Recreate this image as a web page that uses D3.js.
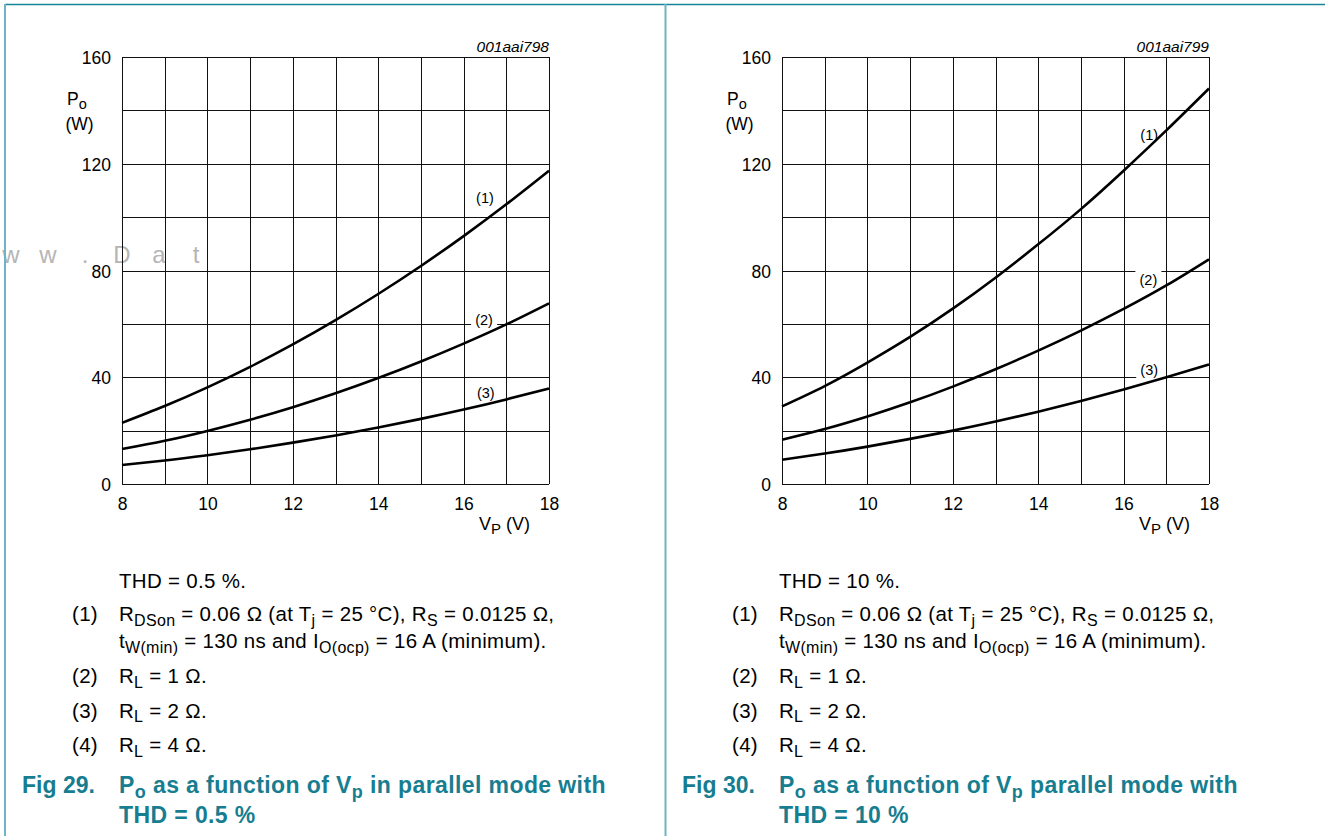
<!DOCTYPE html>
<html>
<head>
<meta charset="utf-8">
<script src="https://cdn.jsdelivr.net/npm/d3@7/dist/d3.min.js"></script>
<style>
  body { margin: 0; background: #fff; }
  svg { display: block; font-family: "Liberation Sans", Arial, Helvetica, sans-serif; }
</style>
</head>
<body>
<svg id="chart"></svg>
<script>
// supply voltage V_P (V), same for every curve
const vpValues = [8, 9, 10, 11, 12, 13, 14, 15, 16, 17, 18];
const xTickValues = [8, 10, 12, 14, 16, 18];
const yTickValues = [0, 40, 80, 120, 160];
const curveNames = ['(1)', '(2)', '(3)'];

// Fig 29: Po (W), THD = 0.5 %
const fig29Curve1 = [22.9, 29.2, 36.2, 43.9, 52.3, 61.4, 71.2, 81.7, 92.9, 104.8, 117.4];
const fig29Curve2 = [13.1, 16.2, 19.9, 24.1, 28.8, 34.0, 39.7, 45.9, 52.6, 59.8, 67.7];
const fig29Curve3 = [7.1, 8.8, 10.8, 13.0, 15.5, 18.2, 21.2, 24.4, 27.9, 31.7, 35.8];
const fig29LabelAt = [[16.5, 105.3], [16.48, 59.6], [16.52, 32.1]];

// Fig 30: Po (W), THD = 10 %
const fig30Curve1 = [29.1, 36.7, 45.5, 55.1, 65.7, 77.3, 89.8, 103.0, 117.4, 132.5, 148.2];
const fig30Curve2 = [16.6, 20.6, 25.3, 30.6, 36.5, 43.0, 50.0, 57.5, 65.6, 74.4, 84.2];
const fig30Curve3 = [9.1, 11.4, 14.0, 16.9, 20.0, 23.4, 27.1, 31.1, 35.4, 40.0, 44.8];
const fig30LabelAt = [[16.6, 128.9], [16.58, 74.6], [16.6, 40.8]];

const legendLine1 = [['R'], ['DSon', 1], [' = 0.06 \u03A9 (at T'], ['j', 1], [' = 25 \u00B0C), R'], ['S', 1], [' = 0.0125 \u03A9,']];
const legendLine2 = [['t'], ['W(min)', 1], [' = 130 ns and I'], ['O(ocp)', 1], [' = 16 A (minimum).']];
const legendRL = ['1', '2', '4'];

const panels = [
    {
        offset: 0, code: '001aai798', thd: 'THD = 0.5 %.', fig: 'Fig 29.',
        curves: [fig29Curve1, fig29Curve2, fig29Curve3], labelAt: fig29LabelAt,
        caption: [['P'], ['o', 1], [' as a function of V'], ['p', 1], [' in parallel mode with']],
        caption2: 'THD = 0.5 %'
    },
    {
        offset: 660, code: '001aai799', thd: 'THD = 10 %.', fig: 'Fig 30.',
        curves: [fig30Curve1, fig30Curve2, fig30Curve3], labelAt: fig30LabelAt,
        caption: [['P'], ['o', 1], [' as a function of V'], ['p', 1], [' parallel mode with']],
        caption2: 'THD = 10 %'
    }
];

const width = 1325;
const height = 836;
const teal = '#177d90';

const svg = d3.select('#chart')
    .attr('width', width)
    .attr('height', height);

svg.append('rect').attr('width', width).attr('height', height).attr('fill', '#fff');

// text with subscripts
function richText(sel, parts, size, subSize) {
    let lowered = false;
    parts.forEach(([str, isSub]) => {
        const t = sel.append('tspan').text(str);
        if (isSub && !lowered) {
            t.attr('dy', size * 0.22).style('font-size', subSize + 'px');
            lowered = true;
        } else if (isSub) {
            t.style('font-size', subSize + 'px');
        } else if (lowered) {
            t.attr('dy', -size * 0.22);
            lowered = false;
        }
    });
    return sel;
}

// watermark bits left of the first plot
const watermark = 'ww.Dat';
svg.append('g')
    .selectAll('text')
    .data(watermark.split(''))
    .enter()
    .append('text')
    .attr('x', (d, i) => 11 + i * 37)
    .attr('y', 263)
    .attr('text-anchor', 'middle')
    .style('font-size', '24px')
    .attr('fill', '#b5b5b5')
    .text(d => d);

function drawPanel(p) {
    const margin = {left: 122 + p.offset, top: 57};
    const plotW = 427;
    const plotH = 427;

    const x = d3.scaleLinear().domain([8, 18]).range([0, plotW]);
    const y = d3.scaleLinear().domain([0, 160]).range([plotH, 0]);

    const g = svg.append('g')
        .attr('transform', `translate(${margin.left}, ${margin.top})`);

    // grid
    g.append('g')
        .selectAll('line')
        .data(d3.range(8, 19, 1))
        .enter()
        .append('line')
        .attr('x1', d => Math.round(x(d)) + 0.5)
        .attr('x2', d => Math.round(x(d)) + 0.5)
        .attr('y1', 0)
        .attr('y2', plotH)
        .attr('stroke', '#111')
        .attr('stroke-width', 1);

    g.append('g')
        .selectAll('line')
        .data(d3.range(0, 161, 20))
        .enter()
        .append('line')
        .attr('x1', 0)
        .attr('x2', plotW)
        .attr('y1', d => Math.round(y(d)) + 0.5)
        .attr('y2', d => Math.round(y(d)) + 0.5)
        .attr('stroke', '#111')
        .attr('stroke-width', 1);

    // axes, labels only
    const yAxis = g.append('g')
        .call(d3.axisLeft(y).tickValues(yTickValues).tickSize(0).tickPadding(11));
    const xAxis = g.append('g')
        .attr('transform', `translate(0, ${plotH})`)
        .call(d3.axisBottom(x).tickValues(xTickValues).tickSize(0).tickPadding(14));
    [yAxis, xAxis].forEach(a => {
        a.select('.domain').remove();
        a.selectAll('text')
            .style('font-size', '17.5px')
            .style('font-family', '"Liberation Sans", Arial, sans-serif')
            .attr('fill', '#000');
    });
    yAxis.selectAll('text').attr('dy', '0.38em');

    // curve labels with white backing
    p.labelAt.forEach(([lv, lp], i) => {
        g.append('rect')
            .attr('x', x(lv) - 13)
            .attr('y', y(lp) - 17)
            .attr('width', 26)
            .attr('height', 21)
            .attr('fill', '#fff');
        g.append('text')
            .attr('x', x(lv))
            .attr('y', y(lp))
            .attr('text-anchor', 'middle')
            .style('font-size', '14.5px')
            .text(curveNames[i]);
    });

    const line = d3.line()
        .x((d, i) => x(vpValues[i]))
        .y(d => y(d))
        .curve(d3.curveNatural);

    p.curves.forEach(c => {
        g.append('path')
            .datum(c)
            .attr('fill', 'none')
            .attr('stroke', '#000')
            .attr('stroke-width', 2.6)
            .attr('d', line);
    });

    // figure code
    g.append('text')
        .attr('x', plotW)
        .attr('y', -5)
        .attr('text-anchor', 'end')
        .style('font-size', '15.5px')
        .style('font-style', 'italic')
        .text(p.code);

    // axis titles
    richText(g.append('text').attr('x', -55).attr('y', 48).style('font-size', '17.5px'),
        [['P'], ['o', 1]], 17.5, 14.5);
    g.append('text')
        .attr('x', -42.5)
        .attr('y', 73)
        .attr('text-anchor', 'middle')
        .style('font-size', '17.5px')
        .text('(W)');
    richText(g.append('text').attr('x', 357).attr('y', plotH + 46).style('font-size', '18px'),
        [['V'], ['P', 1], [' (V)']], 18, 15);

    // notes under the chart
    const tx = 119 + p.offset;
    const nx = 72 + p.offset;
    const notes = svg.append('g')
        .style('font-size', '20.5px')
        .style('letter-spacing', '0.3px');
    notes.append('text').attr('x', tx).attr('y', 588).text(p.thd);
    notes.append('text').attr('x', nx).attr('y', 621).text('(1)');
    richText(notes.append('text').attr('x', tx).attr('y', 621), legendLine1, 20.5, 16);
    richText(notes.append('text').attr('x', tx).attr('y', 648), legendLine2, 20.5, 16);
    legendRL.forEach((r, i) => {
        const yy = 683 + i * 34.5;
        notes.append('text').attr('x', nx).attr('y', yy).text(`(${i + 2})`);
        richText(notes.append('text').attr('x', tx).attr('y', yy),
            [['R'], ['L', 1], [` = ${r} \u03A9.`]], 20.5, 16);
    });

    // caption
    const cap = svg.append('g')
        .style('font-size', '23px')
        .style('font-weight', 'bold')
        .attr('fill', teal);
    cap.append('text').attr('x', 22 + p.offset).attr('y', 793).text(p.fig);
    richText(cap.append('text').attr('x', tx).attr('y', 793).style('letter-spacing', '0.4px'),
        p.caption, 23, 18);
    cap.append('text').attr('x', tx).attr('y', 823).style('letter-spacing', '0.4px').text(p.caption2);
}

panels.forEach(drawPanel);

// page frame
svg.append('line')
    .attr('x1', 5).attr('x2', width)
    .attr('y1', 4.5).attr('y2', 4.5)
    .attr('stroke', '#168599').attr('stroke-width', 1.5);
[5, 665.5].forEach(xx => {
    svg.append('line')
        .attr('x1', xx).attr('x2', xx)
        .attr('y1', 4).attr('y2', height)
        .attr('stroke', '#6fb3c6').attr('stroke-width', 2);
});
</script>
</body>
</html>
